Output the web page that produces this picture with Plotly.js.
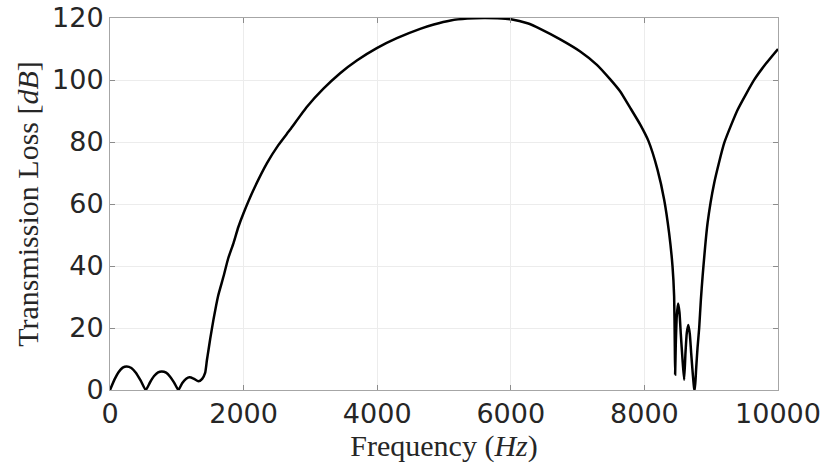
<!DOCTYPE html>
<html>
<head>
<meta charset="utf-8">
<script src="https://cdn.plot.ly/plotly-3.0.1.min.js"></script>
<style>html,body{margin:0;padding:0;background:#fff;}#chart{width:825px;height:470px;}</style>
</head>
<body>
<div id="chart"></div>
<script>
// Frequency (Hz)
const frequency = [
  0, 70, 130, 190, 250, 320, 390, 460, 535,
  600, 660, 720, 775, 840, 900, 960, 1024,
  1080, 1140, 1190, 1250, 1324, 1380, 1424, 1450, 1475, 1500,
  1549, 1620, 1699, 1770, 1849, 1920, 2000, 2149, 2350, 2520, 2696, 2946,
  3195, 3445, 3695, 3994, 4294, 4643, 4847, 5100, 5348, 5600, 5800,
  6001, 6250, 6440, 6740, 7039, 7289, 7489, 7638, 7788, 7938,
  8063, 8196, 8296, 8370, 8421, 8445, 8455, 8460,
  8470, 8485, 8505, 8525, 8545, 8570, 8595,
  8615, 8635, 8658, 8680, 8700, 8725, 8745, 8755,
  8775, 8795, 8820, 8845, 8871, 8946, 9045, 9195, 9396, 9645, 9820, 10000
];
// Transmission loss (dB)
const transmissionLoss = [
  0, 3.5, 5.8, 7.2, 7.6, 7.1, 5.5, 3.0, 0,
  2.5, 4.5, 5.7, 6.0, 5.6, 4.3, 2.4, 0,
  2.2, 3.6, 4.1, 3.7, 2.8, 3.6, 5.5, 9.5, 13, 16.5,
  22.7, 30.5, 36.6, 42.5, 47.4, 52.5, 57.1, 64.6, 73.2, 79.0, 84.0, 91.3,
  97.2, 102.2, 106.3, 110.3, 113.5, 116.5, 117.9, 119.2, 119.8, 120.0, 119.9,
  119.6, 118.3, 116.5, 113.1, 109.2, 104.9, 100.2, 96.3, 91.0, 85.6,
  80.2, 71.1, 61.4, 50.6, 39.9, 30.2, 15, 5,
  15, 24, 27.9, 25, 18, 10, 3.3,
  12, 18.5, 21, 18, 12, 5, 0.5, 0,
  7, 13.5, 20, 29, 36.6, 53.9, 66.8, 79.7, 90.4, 100.1, 105.3, 110
];
const xTicks = [0, 2000, 4000, 6000, 8000, 10000];
const yTicks = [0, 20, 40, 60, 80, 100, 120];

const trace = {
  x: frequency,
  y: transmissionLoss,
  type: 'scatter',
  mode: 'lines',
  line: {color: '#000000', width: 2.5, shape: 'spline', smoothing: 0.5},
  hoverinfo: 'skip'
};

const axisCommon = {
  showline: true,
  linecolor: '#a6a6a6',
  linewidth: 1,
  mirror: 'ticks',
  ticks: 'inside',
  ticklen: 5,
  tickcolor: '#8c8c8c',
  tickwidth: 1,
  showgrid: true,
  gridcolor: '#ececec',
  gridwidth: 1,
  zeroline: false,
  tickfont: {family: 'DejaVu Sans, sans-serif', size: 27, color: '#262626'}
};

const layout = {
  width: 825,
  height: 470,
  paper_bgcolor: '#ffffff',
  plot_bgcolor: '#ffffff',
  showlegend: false,
  margin: {l: 110, r: 47, t: 18, b: 80, pad: 0},
  xaxis: Object.assign({}, axisCommon, {
    range: [0, 10000],
    tickvals: xTicks,
    ticktext: xTicks.map(String),
    title: {text: 'Frequency (<i>Hz</i>)', font: {family: 'Liberation Serif, DejaVu Serif, serif', size: 30, color: '#262626'}, standoff: 0}
  }),
  yaxis: Object.assign({}, axisCommon, {
    range: [0, 120],
    tickvals: yTicks,
    ticktext: yTicks.map(String),
    title: {text: 'Transmission Loss [<i>dB</i>]', font: {family: 'Liberation Serif, DejaVu Serif, serif', size: 30, color: '#262626'}, standoff: 4}
  })
};

Plotly.newPlot('chart', [trace], layout, {staticPlot: true, displayModeBar: false});
</script>
</body>
</html>
